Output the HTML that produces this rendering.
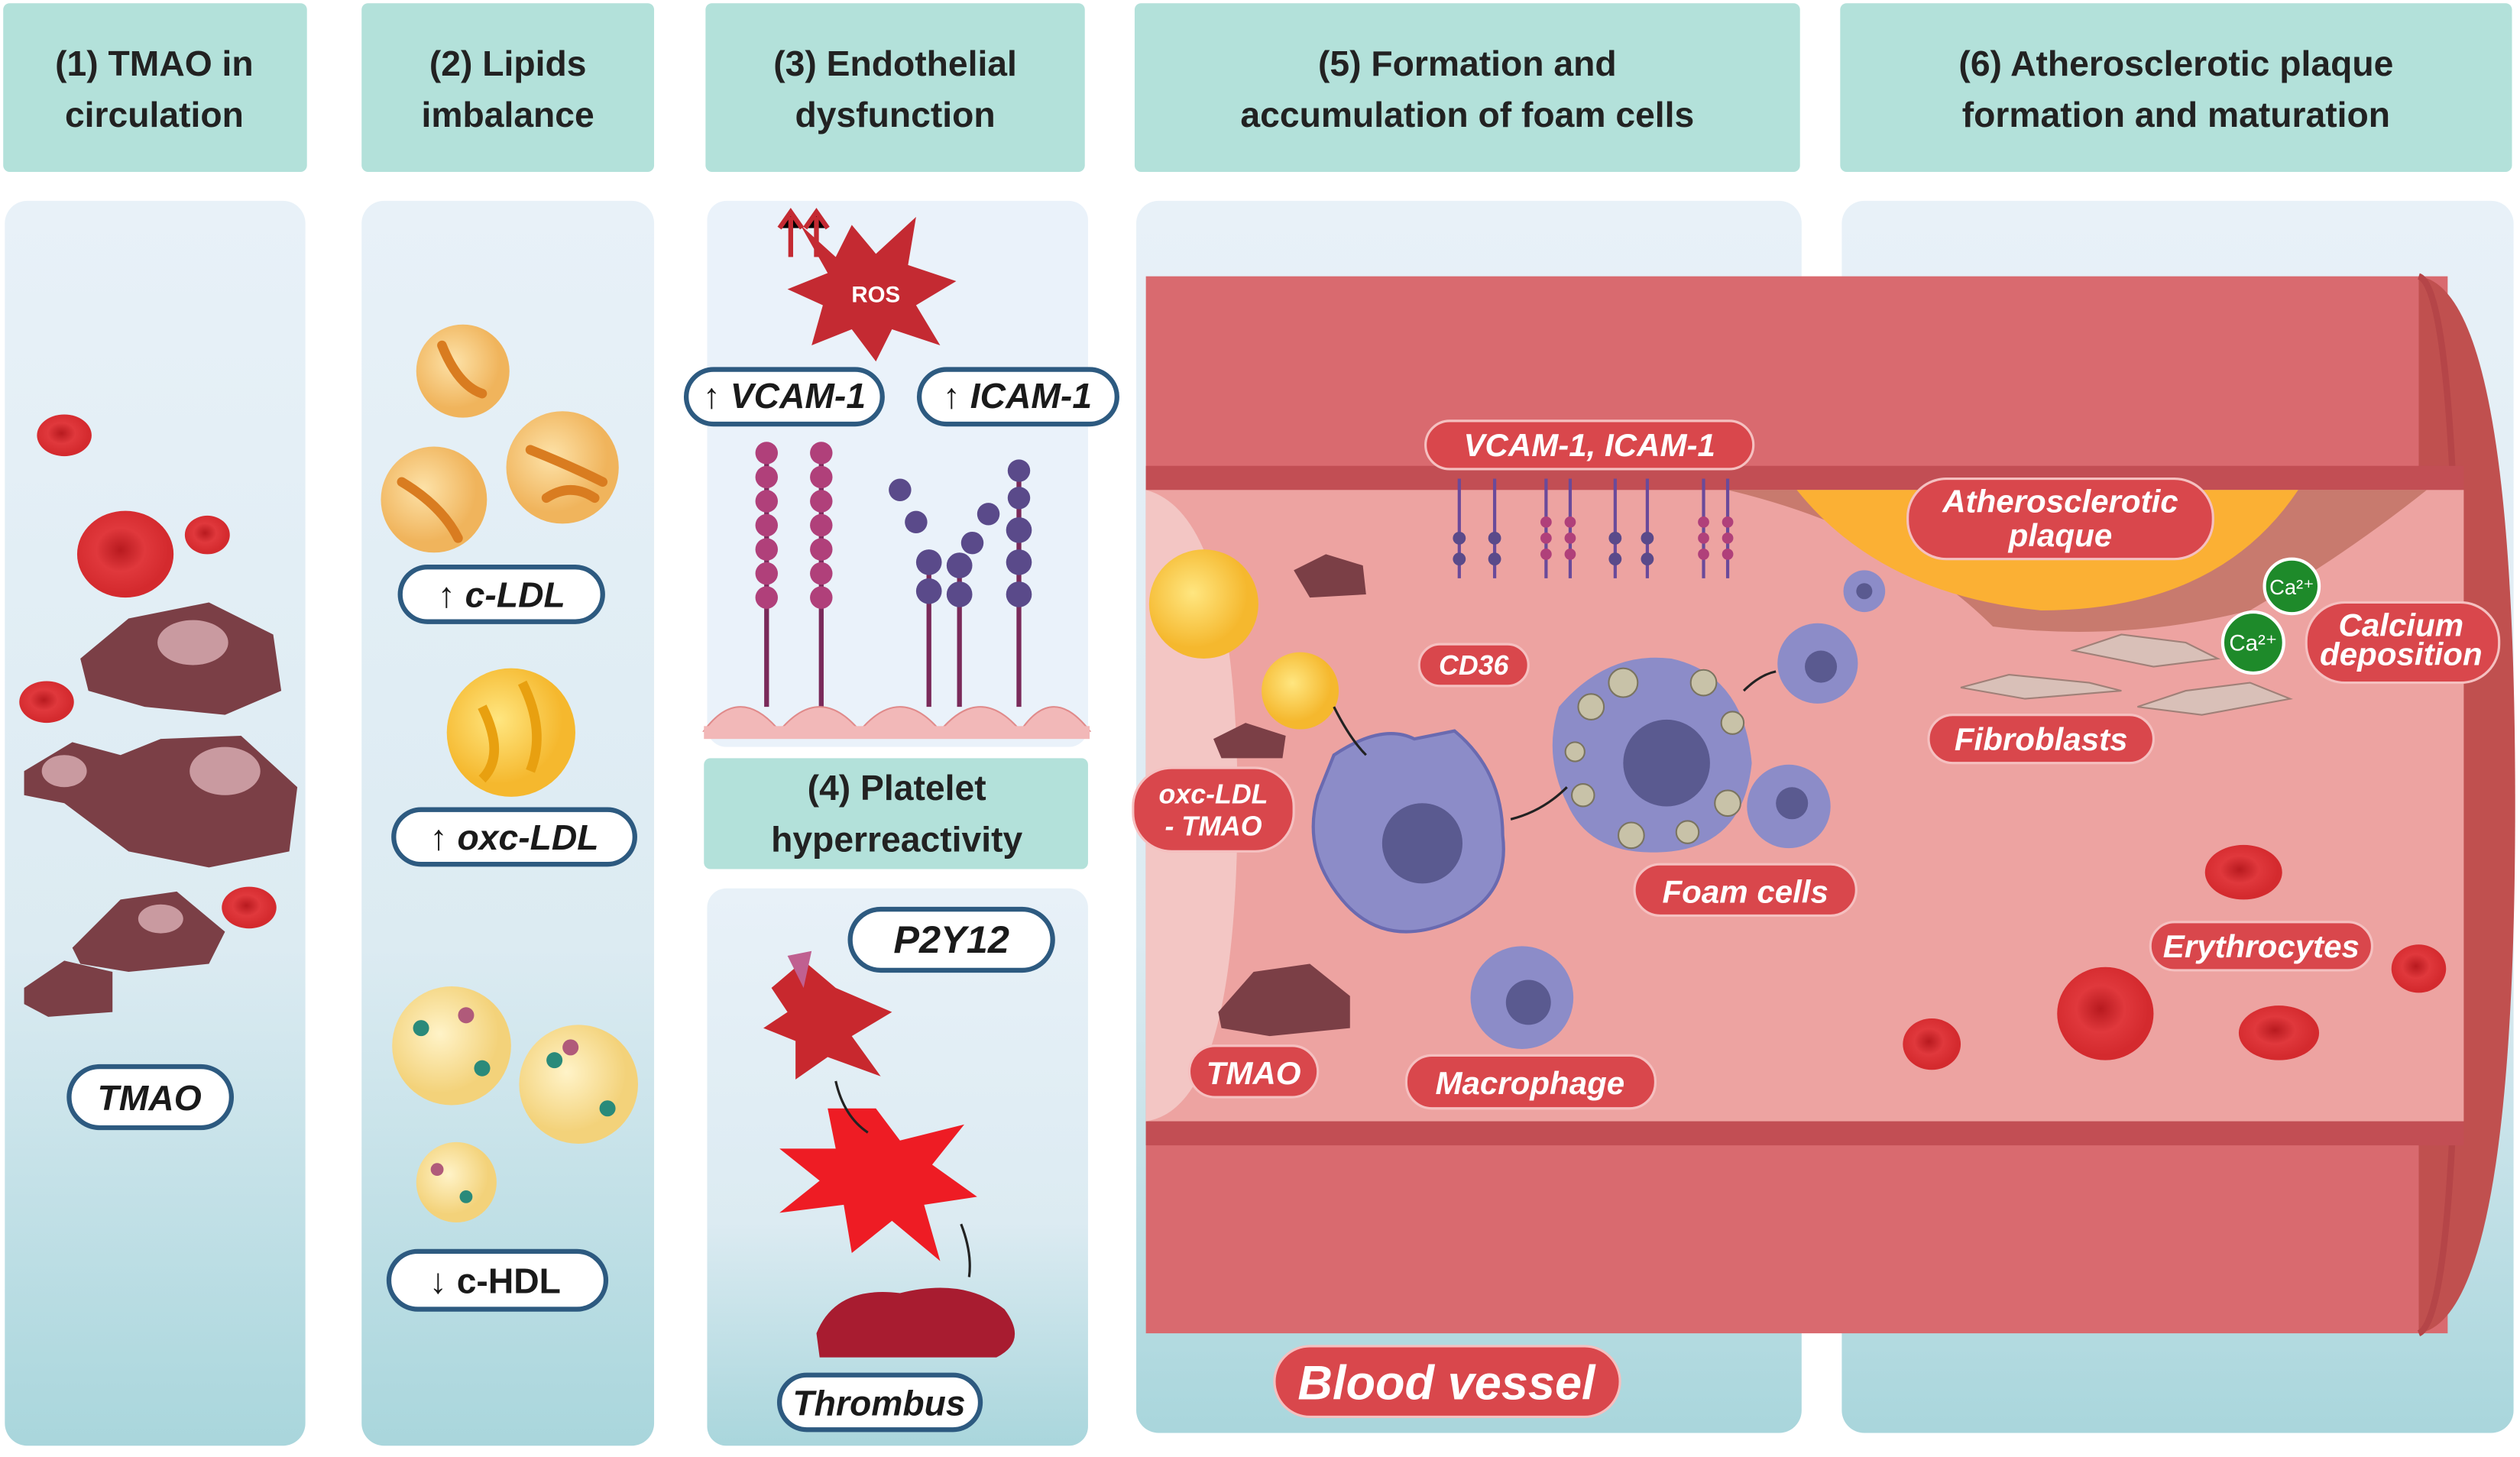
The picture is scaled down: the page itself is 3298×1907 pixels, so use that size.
<!DOCTYPE html>
<html><head><meta charset="utf-8"><style>
html,body{margin:0;padding:0;background:#fff}
svg{display:block}
text{font-family:"Liberation Sans","DejaVu Sans",sans-serif}
.h{font-weight:bold;font-size:22px;fill:#222;text-anchor:middle}
.p{font-weight:bold;font-style:italic;font-size:20px;fill:#fff;text-anchor:middle}
.b{font-weight:bold;font-style:italic;font-size:22px;fill:#1a1a1a;text-anchor:middle}
</style></head><body>
<svg width="3298" height="1907" viewBox="0 0 1568 907" preserveAspectRatio="none" xmlns="http://www.w3.org/2000/svg">
<defs>
<linearGradient id="pg" x1="0" y1="0" x2="0" y2="1"><stop offset="0" stop-color="#e8f1f8"/><stop offset="0.6" stop-color="#dcebf2"/><stop offset="1" stop-color="#a9d6dc"/></linearGradient>
<radialGradient id="yl" cx="0.4" cy="0.4"><stop offset="0" stop-color="#ffe680"/><stop offset="1" stop-color="#f5b82e"/></radialGradient>
<radialGradient id="or" cx="0.4" cy="0.4"><stop offset="0" stop-color="#fde2a8"/><stop offset="1" stop-color="#f0b45c"/></radialGradient>
<radialGradient id="hd" cx="0.4" cy="0.4"><stop offset="0" stop-color="#fff3c8"/><stop offset="1" stop-color="#f3d27a"/></radialGradient>
<radialGradient id="rbc" cx="0.45" cy="0.45"><stop offset="0" stop-color="#b81a1f"/><stop offset="0.5" stop-color="#e0383c"/><stop offset="1" stop-color="#d42a2e"/></radialGradient>
</defs>
<g fill="#b3e1da">
<rect x="2" y="2" width="189" height="105" rx="4"/>
<rect x="225" y="2" width="182" height="105" rx="4"/>
<rect x="439" y="2" width="236" height="105" rx="4"/>
<rect x="706" y="2" width="414" height="105" rx="4"/>
<rect x="1145" y="2" width="418" height="105" rx="4"/>
<rect x="438" y="472" width="239" height="69" rx="4"/>
</g>
<text class="h" x="96" y="47">(1) TMAO in</text><text class="h" x="96" y="79">circulation</text>
<text class="h" x="316" y="47">(2) Lipids</text><text class="h" x="316" y="79">imbalance</text>
<text class="h" x="557" y="47">(3) Endothelial</text><text class="h" x="557" y="79">dysfunction</text>
<text class="h" x="913" y="47">(5) Formation and</text><text class="h" x="913" y="79">accumulation of foam cells</text>
<text class="h" x="1354" y="47">(6) Atherosclerotic plaque</text><text class="h" x="1354" y="79">formation and maturation</text>
<text class="h" x="558" y="498">(4) Platelet</text><text class="h" x="558" y="530">hyperreactivity</text>
<g fill="url(#pg)">
<rect x="3" y="125" width="187" height="775" rx="14"/>
<rect x="225" y="125" width="182" height="775" rx="14"/>
<rect x="440" y="553" width="237" height="347" rx="12"/>
<rect x="707" y="125" width="414" height="767" rx="14"/>
<rect x="1146" y="125" width="418" height="767" rx="14"/>
</g>
<rect x="440" y="125" width="237" height="340" rx="12" fill="#eaf2fa"/>
<ellipse cx="40" cy="271" rx="17" ry="13" fill="url(#rbc)"/>
<ellipse cx="78" cy="345" rx="30" ry="27" fill="url(#rbc)"/>
<ellipse cx="129" cy="333" rx="14" ry="12" fill="url(#rbc)"/>
<ellipse cx="29" cy="437" rx="17" ry="13" fill="url(#rbc)"/>
<ellipse cx="155" cy="565" rx="17" ry="13" fill="url(#rbc)"/>
<g fill="#7b3f46">
<path d="M50 410 L80 385 L130 375 L170 395 L175 430 L140 445 L90 440 L55 430Z"/>
<path d="M15 480 L45 462 L75 470 L100 460 L150 458 L185 490 L180 530 L130 540 L80 530 L40 500 L15 495Z"/>
<path d="M45 590 L75 560 L110 555 L140 580 L130 600 L80 605 L50 600Z"/>
<path d="M15 615 L40 598 L70 605 L70 630 L30 633 L15 625Z"/>
</g>
<g fill="#c99aa0"><ellipse cx="120" cy="400" rx="22" ry="14"/><ellipse cx="140" cy="480" rx="22" ry="15"/><ellipse cx="40" cy="480" rx="14" ry="10"/><ellipse cx="100" cy="572" rx="14" ry="9"/></g>
<rect x="43" y="664" width="101" height="38" rx="19" fill="#fff" stroke="#2d5a80" stroke-width="3"/>
<text class="b" x="93" y="691">TMAO</text>
<g fill="url(#or)"><circle cx="288" cy="231" r="29"/><circle cx="270" cy="311" r="33"/><circle cx="350" cy="291" r="35"/></g>
<g stroke="#d97c20" stroke-width="6" fill="none" stroke-linecap="round"><path d="M275 215 Q285 240 300 245"/><path d="M250 300 Q275 315 285 335"/><path d="M330 280 Q355 290 375 300"/><path d="M340 310 Q355 300 370 310"/></g>
<rect x="249" y="353" width="126" height="34" rx="17" fill="#fff" stroke="#2d5a80" stroke-width="3"/>
<text class="b" x="312" y="378">↑ c-LDL</text>
<circle cx="318" cy="456" r="40" fill="url(#yl)"/>
<g stroke="#e8a010" stroke-width="6" fill="none"><path d="M300 440 Q315 470 300 485"/><path d="M325 425 Q340 455 330 480"/></g>
<rect x="245" y="504" width="150" height="34" rx="17" fill="#fff" stroke="#2d5a80" stroke-width="3"/>
<text class="b" x="320" y="529">↑ oxc-LDL</text>
<g fill="url(#hd)"><circle cx="281" cy="651" r="37"/><circle cx="360" cy="675" r="37"/><circle cx="284" cy="736" r="25"/></g>
<g fill="#2a8a7a"><circle cx="262" cy="640" r="5"/><circle cx="300" cy="665" r="5"/><circle cx="345" cy="660" r="5"/><circle cx="378" cy="690" r="5"/><circle cx="290" cy="745" r="4"/></g>
<g fill="#b05a7a"><circle cx="290" cy="632" r="5"/><circle cx="355" cy="652" r="5"/><circle cx="272" cy="728" r="4"/></g>
<rect x="242" y="779" width="135" height="36" rx="18" fill="#fff" stroke="#2d5a80" stroke-width="3"/>
<text class="b" x="308" y="805" style="font-style:normal">↓ c-HDL</text>
<path d="M498 140 L520 160 L530 140 L545 158 L570 135 L565 165 L595 175 L570 190 L585 215 L555 205 L545 225 L530 205 L505 215 L512 190 L490 180 L515 170Z" fill="#c42a32"/>
<text x="545" y="188" font-size="14" font-weight="bold" fill="#fff" text-anchor="middle">ROS</text>
<g stroke="#c42a32" stroke-width="3"><path d="M492 160 V135 M485 142 L492 132 L499 142"/><path d="M508 160 V135 M501 142 L508 132 L515 142"/></g>
<rect x="427" y="230" width="122" height="34" rx="17" fill="#fff" stroke="#2d5a80" stroke-width="3"/>
<text class="b" x="488" y="254">↑ VCAM-1</text>
<rect x="572" y="230" width="123" height="34" rx="17" fill="#fff" stroke="#2d5a80" stroke-width="3"/>
<text class="b" x="633" y="254">↑ ICAM-1</text>
<g stroke="#7a2a5a" stroke-width="3"><line x1="477" y1="280" x2="477" y2="440"/><line x1="511" y1="280" x2="511" y2="440"/><line x1="578" y1="350" x2="578" y2="440"/><line x1="597" y1="350" x2="597" y2="440"/><line x1="634" y1="290" x2="634" y2="440"/></g>
<g fill="#b0407a"><circle cx="477" cy="282" r="7"/><circle cx="477" cy="297" r="7"/><circle cx="477" cy="312" r="7"/><circle cx="477" cy="327" r="7"/><circle cx="477" cy="342" r="7"/><circle cx="477" cy="357" r="7"/><circle cx="477" cy="372" r="7"/><circle cx="511" cy="282" r="7"/><circle cx="511" cy="297" r="7"/><circle cx="511" cy="312" r="7"/><circle cx="511" cy="327" r="7"/><circle cx="511" cy="342" r="7"/><circle cx="511" cy="357" r="7"/><circle cx="511" cy="372" r="7"/></g>
<g fill="#5a4a8a"><circle cx="560" cy="305" r="7"/><circle cx="570" cy="325" r="7"/><circle cx="578" cy="350" r="8"/><circle cx="578" cy="368" r="8"/><circle cx="615" cy="320" r="7"/><circle cx="605" cy="338" r="7"/><circle cx="597" cy="352" r="8"/><circle cx="597" cy="370" r="8"/><circle cx="634" cy="293" r="7"/><circle cx="634" cy="310" r="7"/><circle cx="634" cy="330" r="8"/><circle cx="634" cy="350" r="8"/><circle cx="634" cy="370" r="8"/></g>
<g fill="#f2b8b8" stroke="#e08a8a"><path d="M438 455 Q460 425 485 455 Q510 425 535 455 Q560 425 585 455 Q610 425 635 455 Q655 425 678 455 Z"/></g>
<rect x="438" y="452" width="240" height="8" fill="#f2b8b8"/>
<rect x="529" y="566" width="126" height="38" rx="19" fill="#fff" stroke="#2d5a80" stroke-width="3"/>
<text class="b" x="592" y="593" style="font-size:24px">P2Y12</text>
<path d="M480 615 L500 598 L520 615 L555 630 L530 645 L548 670 L515 658 L495 672 L495 648 L475 640 L490 630Z" fill="#c8282e"/>
<path d="M490 595 L505 592 L500 615 Z" fill="#c06090"/>
<path d="M545 690 L560 710 L600 700 L580 725 L608 745 L575 750 L585 785 L555 760 L530 780 L525 750 L485 755 L510 735 L485 715 L520 715 L515 690Z" fill="#ee1c24"/>
<path d="M508 830 Q520 800 560 805 Q600 795 625 815 Q640 835 620 845 L510 845Z" fill="#a81c30"/>
<g stroke="#222" stroke-width="1.5" fill="none"><path d="M520 673 Q525 695 540 705"/><path d="M598 762 Q605 780 603 795"/></g>
<rect x="485" y="856" width="125" height="34" rx="17" fill="#fff" stroke="#2d5a80" stroke-width="3"/>
<text class="b" x="547" y="881">Thrombus</text>
<rect x="713" y="172" width="810" height="658" fill="#d96a6f"/>
<path d="M1505 172 Q1565 180 1565 500 Q1565 820 1505 830 Z" fill="#c0504f"/>
<path d="M1505 172 Q1530 180 1530 500 Q1530 820 1505 830" fill="none" stroke="#b54548" stroke-width="4"/>
<rect x="713" y="290" width="820" height="16" fill="#c24e54"/>
<rect x="713" y="697" width="820" height="16" fill="#c24e54"/>
<rect x="713" y="305" width="820" height="393" fill="#eda3a1"/>
<path d="M713 305 Q770 320 770 500 Q770 690 713 698 Z" fill="#f3c6c4"/>
<path d="M1075 305 Q1180 330 1240 390 Q1320 400 1400 380 Q1460 345 1510 305 Z" fill="#c87a6e"/>
<path d="M1118 305 Q1170 370 1270 380 Q1380 380 1430 305 Z" fill="#fbb034"/>
<g fill="#d9c0b8" stroke="#a08078"><path d="M1220 428 L1250 420 L1300 425 L1320 430 L1260 435Z"/><path d="M1290 405 L1320 395 L1360 400 L1380 410 L1340 415Z"/><path d="M1330 440 L1360 430 L1400 425 L1425 435 L1370 445Z"/></g>
<circle cx="1426" cy="365" r="17" fill="#1e8a2a" stroke="#fff" stroke-width="2"/><text x="1426" y="370" font-size="13" fill="#fff" text-anchor="middle">Ca²⁺</text>
<circle cx="1402" cy="400" r="19" fill="#1e8a2a" stroke="#fff" stroke-width="2"/><text x="1402" y="405" font-size="14" fill="#fff" text-anchor="middle">Ca²⁺</text>
<circle cx="749" cy="376" r="34" fill="url(#yl)"/>
<circle cx="809" cy="430" r="24" fill="url(#yl)"/>
<circle cx="852" cy="483" r="10" fill="url(#yl)"/>
<g fill="#7b3f46"><path d="M805 355 L825 345 L848 352 L850 370 L815 372Z"/><path d="M755 460 L775 450 L800 458 L798 472 L760 472Z"/><path d="M758 630 L780 605 L815 600 L840 620 L840 640 L790 645 L760 640Z"/></g>
<path d="M830 470 Q860 450 880 460 L905 455 Q935 480 935 520 Q940 560 900 575 Q860 590 835 560 Q810 530 820 495 Z" fill="#8c8cc8" stroke="#6a6ab0" stroke-width="2"/>
<circle cx="885" cy="525" r="25" fill="#5a5a90"/>
<path d="M970 440 Q1000 405 1040 410 Q1085 420 1090 475 Q1085 525 1040 530 Q990 535 975 500 Q960 470 970 440Z" fill="#8c8cc8"/>
<circle cx="1037" cy="475" r="27" fill="#5a5a90"/>
<g fill="#c8c2a8" stroke="#7a7460"><circle cx="990" cy="440" r="8"/><circle cx="1010" cy="425" r="9"/><circle cx="1060" cy="425" r="8"/><circle cx="1078" cy="450" r="7"/><circle cx="1075" cy="500" r="8"/><circle cx="1050" cy="518" r="7"/><circle cx="1015" cy="520" r="8"/><circle cx="985" cy="495" r="7"/><circle cx="980" cy="468" r="6"/></g>
<circle cx="1131" cy="413" r="25" fill="#8c8cc8"/><circle cx="1133" cy="415" r="10" fill="#5a5a90"/>
<circle cx="1113" cy="502" r="26" fill="#8c8cc8"/><circle cx="1115" cy="500" r="10" fill="#5a5a90"/>
<circle cx="1160" cy="368" r="13" fill="#8c8cc8"/><circle cx="1160" cy="368" r="5" fill="#5a5a90"/>
<circle cx="947" cy="621" r="32" fill="#8c8cc8"/><circle cx="951" cy="624" r="14" fill="#5a5a90"/>
<g stroke="#222" stroke-width="1.5" fill="none"><path d="M830 440 Q840 460 850 470"/><path d="M940 510 Q960 505 975 490"/><path d="M1085 430 Q1095 420 1105 418"/></g>
<g stroke="#6a4a9a" stroke-width="2"><line x1="908" y1="298" x2="908" y2="360"/><line x1="930" y1="298" x2="930" y2="360"/><line x1="962" y1="298" x2="962" y2="360"/><line x1="977" y1="298" x2="977" y2="360"/><line x1="1005" y1="298" x2="1005" y2="360"/><line x1="1025" y1="298" x2="1025" y2="360"/><line x1="1060" y1="298" x2="1060" y2="360"/><line x1="1075" y1="298" x2="1075" y2="360"/></g>
<g fill="#b0407a"><circle cx="962" cy="325" r="3.5"/><circle cx="962" cy="335" r="3.5"/><circle cx="962" cy="345" r="3.5"/><circle cx="977" cy="325" r="3.5"/><circle cx="977" cy="335" r="3.5"/><circle cx="977" cy="345" r="3.5"/><circle cx="1060" cy="325" r="3.5"/><circle cx="1060" cy="335" r="3.5"/><circle cx="1060" cy="345" r="3.5"/><circle cx="1075" cy="325" r="3.5"/><circle cx="1075" cy="335" r="3.5"/><circle cx="1075" cy="345" r="3.5"/></g>
<g fill="#5a4a8a"><circle cx="908" cy="335" r="4"/><circle cx="908" cy="348" r="4"/><circle cx="930" cy="335" r="4"/><circle cx="930" cy="348" r="4"/><circle cx="1005" cy="335" r="4"/><circle cx="1005" cy="348" r="4"/><circle cx="1025" cy="335" r="4"/><circle cx="1025" cy="348" r="4"/></g>
<g fill="url(#rbc)"><ellipse cx="1396" cy="543" rx="24" ry="17"/><ellipse cx="1310" cy="631" rx="30" ry="29"/><ellipse cx="1202" cy="650" rx="18" ry="16"/><ellipse cx="1418" cy="643" rx="25" ry="17"/><ellipse cx="1505" cy="603" rx="17" ry="15"/></g>
<g fill="#d9474c" stroke="#f5c0c0" stroke-width="1.5">
<rect x="887" y="262" width="204" height="30" rx="15"/>
<rect x="1187" y="298" width="190" height="50" rx="24"/>
<rect x="883" y="401" width="68" height="26" rx="13"/>
<rect x="705" y="478" width="100" height="52" rx="24"/>
<rect x="1017" y="538" width="138" height="32" rx="16"/>
<rect x="1200" y="445" width="140" height="30" rx="15"/>
<rect x="1435" y="375" width="120" height="50" rx="24"/>
<rect x="1338" y="574" width="138" height="30" rx="15"/>
<rect x="740" y="651" width="80" height="32" rx="16"/>
<rect x="875" y="657" width="155" height="33" rx="16"/>
<rect x="793" y="838" width="215" height="44" rx="22"/>
</g>
<text class="p" x="989" y="284">VCAM-1, ICAM-1</text>
<text class="p" x="1282" y="319">Atherosclerotic</text><text class="p" x="1282" y="340">plaque</text>
<text class="p" x="917" y="420" style="font-size:17px">CD36</text>
<text class="p" x="755" y="500" style="font-size:17px">oxc-LDL</text><text class="p" x="755" y="520" style="font-size:17px">- TMAO</text>
<text class="p" x="1086" y="562">Foam cells</text>
<text class="p" x="1270" y="467">Fibroblasts</text>
<text class="p" x="1494" y="396">Calcium</text><text class="p" x="1494" y="414">deposition</text>
<text class="p" x="1407" y="596">Erythrocytes</text>
<text class="p" x="780" y="675">TMAO</text>
<text class="p" x="952" y="681">Macrophage</text>
<text class="p" x="900" y="871" style="font-size:30px">Blood vessel</text>
</svg>
</body></html>
